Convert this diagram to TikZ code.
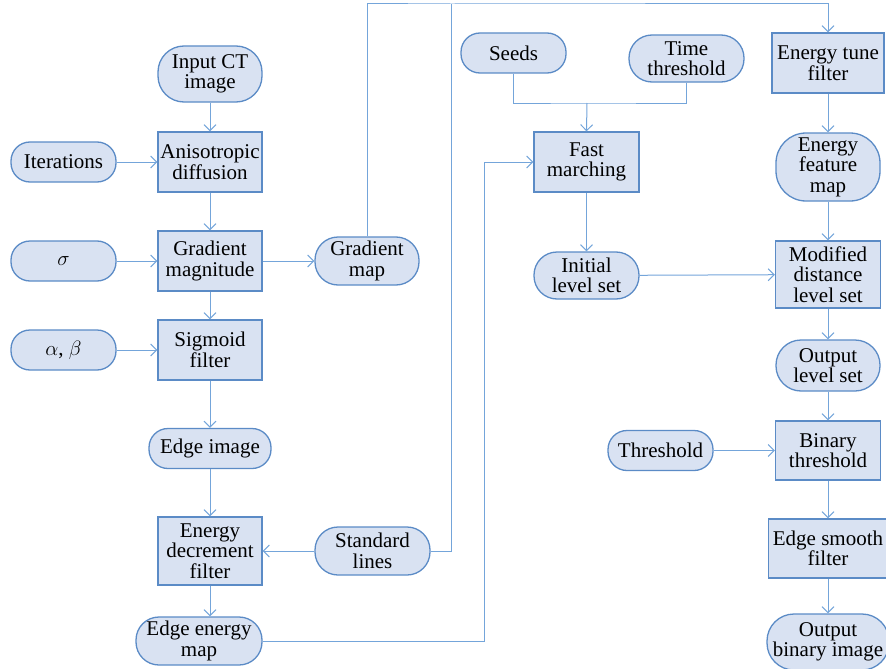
\documentclass[tikz,border=0pt]{standalone}
\usepackage{fontspec}
\newfontfamily\diagfont{Liberation Serif}
\usetikzlibrary{arrows.meta}
\definecolor{boxfill}{HTML}{D9E2F2}
\definecolor{boxdraw}{HTML}{5B8BC6}
\definecolor{linkcol}{HTML}{74A5DA}
\begin{document}
\begin{tikzpicture}
  [x=1pt,y=-1pt,
   every node/.style={fill=boxfill,draw=boxdraw,line width=1.3pt,inner sep=1pt,
     align=center,font=\diagfont\fontsize{21}{20.5}\selectfont},
   proc/.style={rectangle,minimum width=104pt,minimum height=60pt},
   data/.style={rectangle,rounded corners=19pt,minimum width=105pt,minimum height=40pt},
   link/.style={draw=linkcol,line width=1pt,-{Straight Barb[length=6pt,width=12pt]}},
   wire/.style={draw=linkcol,line width=1pt}]

  \useasboundingbox (0,0) rectangle (886,669);

  \node [data,minimum width=104pt,minimum height=56pt,rounded corners=26pt] (input) at (210,74) {Input CT\\image};
  \node [proc] (aniso) at (210,162) {Anisotropic\\diffusion};
  \node [data] (iter) at (63.5,162) {Iterations};
  \node [proc] (grad) at (210,261) {Gradient\\magnitude};
  \node [data] (sigma) at (63.5,261) {$\sigma$};
  \node [data,minimum width=104pt,minimum height=48pt,rounded corners=23pt] (gmap) at (367,261) {Gradient\\map};
  \node [proc] (sigm) at (210,350) {Sigmoid\\filter};
  \node [data] (ab) at (63.5,350) {$\alpha$, $\beta$};
  \node [data,minimum width=122pt] (edge) at (210,448.5) {Edge image};
  \node [proc,minimum height=68pt] (edec) at (210,551) {Energy\\decrement\\filter};
  \node [data,minimum width=115pt,minimum height=48pt,rounded corners=23pt] (std) at (372.5,551) {Standard\\lines};
  \node [data,minimum width=126pt,minimum height=48pt,rounded corners=23pt] (emap) at (199,641) {Edge energy\\map};

  \node [data] (seeds) at (513.5,53) {Seeds};
  \node [data,minimum width=115pt,minimum height=47pt,rounded corners=23pt] (time) at (686.5,58.5) {Time\\threshold};
  \node [proc,minimum width=105pt] (fast) at (586.5,162) {Fast\\marching};
  \node [data,minimum height=47pt,rounded corners=23pt] (init) at (586.5,275.5) {Initial\\level set};

  \node [proc,minimum width=112pt] (tune) at (828,63) {Energy tune\\filter};
  \node [data,minimum width=104pt,minimum height=68pt,rounded corners=30pt] (feat) at (828,167) {Energy\\feature\\map};
  \node [proc,minimum width=105pt,minimum height=67pt] (mod) at (828,274.5) {Modified\\distance\\level set};
  \node [data,minimum width=104pt,minimum height=51pt,rounded corners=25pt] (out) at (828,365.5) {Output\\level set};
  \node [proc,minimum width=105pt,minimum height=59pt] (bin) at (828,450.5) {Binary\\threshold};
  \node [data] (thr) at (660.5,450.5) {Threshold};
  \node [proc,minimum width=119pt,minimum height=59pt] (smooth) at (828,548.5) {Edge smooth\\filter};
  \node [data,minimum width=122pt,minimum height=56pt,rounded corners=27pt] (outbin) at (828,642) {Output\\binary image};

  \coordinate (top) at (451,4);
  \coordinate (join) at (587,103);

  \draw [link] (input) -- (aniso);
  \draw [link] (iter) -- (aniso);
  \draw [link] (aniso) -- (grad);
  \draw [link] (sigma) -- (grad);
  \draw [link] (grad) -- (gmap);
  \draw [link] (grad) -- (sigm);
  \draw [link] (ab) -- (sigm);
  \draw [link] (sigm) -- (edge);
  \draw [link] (edge) -- (edec);
  \draw [link] (std) -- (edec);
  \draw [link] (edec) -- (edec |- emap.north);
  \draw [link] (gmap.north) |- (top) -| (tune.north);
  \draw [wire] (std.east) -| (top);
  \draw [link] (emap.east) -- ++(222,0) |- (fast.west);
  \draw [wire] (seeds.south) |- (join) -| (time.south);
  \draw [link] (join) -- (fast.north);
  \draw [link] (fast) -- (init);
  \draw [link] (init) -- (mod);
  \draw [link] (tune) -- (feat);
  \draw [link] (feat) -- (mod);
  \draw [link] (mod) -- (out);
  \draw [link] (out) -- (bin);
  \draw [link] (thr) -- (bin);
  \draw [link] (bin) -- (smooth);
  \draw [link] (smooth) -- (outbin);
\end{tikzpicture}
\end{document}
